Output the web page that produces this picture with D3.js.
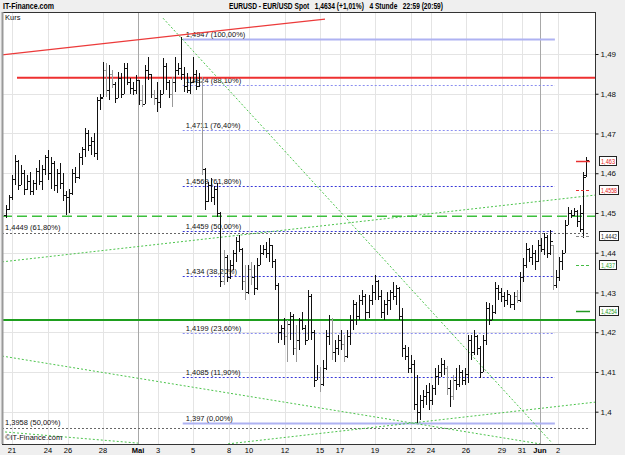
<!DOCTYPE html>
<head>
    <meta charset="UTF-8">
    <title>EURUSD 4 Stunde</title>
</head>
<style>
    body { margin: 0; background: #efefef; font-family: "Liberation Sans", Arial, sans-serif; }
    svg { display: block; }
    .grid line { stroke: #e4e4e4; stroke-width: 1; shape-rendering: crispEdges; }
    .small { font-size: 7.5px; fill: #111; }
</style>
<body>
<script src="https://cdn.jsdelivr.net/npm/d3@7"></script>
<script>
    // EURUSD 4h bars, 21. April - 2. Juni (Werte aus dem Bild geschaetzt)
    var barOpen = [
        1.4495,1.4510,1.4540,1.4585,1.4630,1.4570,1.4600,1.4560,1.4580,1.4555,
        1.4575,1.4605,1.4580,1.4610,1.4640,1.4600,1.4625,1.4570,1.4600,1.4575,
        1.4545,1.4540,1.4550,1.4600,1.4590,1.4640,1.4660,1.4700,1.4670,1.4680,
        1.4650,1.4785,1.4792,1.4860,1.4810,1.4850,1.4825,1.4790,1.4840,1.4800,
        1.4865,1.4830,1.4815,1.4810,1.4835,1.4785,1.4775,1.4860,1.4850,1.4800,
        1.4790,1.4780,1.4800,1.4870,1.4830,1.4800,1.4830,1.4860,1.4865,1.4850,
        1.4820,1.4810,1.4830,1.4850,1.4820,1.4830,1.4610,1.4530,1.4570,1.4540,
        1.4560,1.4500,1.4330,1.4390,1.4340,1.4370,1.4400,1.4430,1.4410,1.4330,
        1.4300,1.4360,1.4340,1.4310,1.4370,1.4400,1.4410,1.4400,1.4420,1.4380,
        1.4320,1.4200,1.4210,1.4190,1.4220,1.4240,1.4160,1.4180,1.4230,1.4210,
        1.4180,1.4290,1.4200,1.4080,1.4100,1.4070,1.4110,1.4190,1.4230,1.4150,
        1.4160,1.4180,1.4170,1.4140,1.4190,1.4230,1.4270,1.4240,1.4280,1.4290,
        1.4250,1.4280,1.4300,1.4330,1.4290,1.4250,1.4270,1.4280,1.4300,1.4290,
        1.4310,1.4240,1.4160,1.4140,1.4110,1.4120,1.4020,1.4000,1.4030,1.4040,
        1.4050,1.4030,1.4060,1.4090,1.4100,1.4120,1.4110,1.4060,1.4040,1.4080,
        1.4070,1.4100,1.4080,1.4095,1.4180,1.4150,1.4190,1.4160,1.4100,1.4180,
        1.4260,1.4230,1.4250,1.4310,1.4300,1.4290,1.4280,1.4295,1.4270,1.4290,
        1.4280,1.4340,1.4370,1.4410,1.4390,1.4400,1.4380,1.4420,1.4410,1.4440,
        1.4400,1.4420,1.4320,1.4340,1.4380,1.4400,1.4470,1.4500,1.4495,1.4505,
        1.4480,1.4460,1.4595];
    var barHigh = [
        1.4520,1.4545,1.4595,1.4646,1.4633,1.4620,1.4608,1.4595,1.4603,1.4583,
        1.4613,1.4633,1.4620,1.4646,1.4658,1.4640,1.4630,1.4610,1.4625,1.4600,
        1.4555,1.4560,1.4610,1.4615,1.4650,1.4665,1.4715,1.4710,1.4690,1.4700,
        1.4792,1.4800,1.4880,1.4877,1.4872,1.4860,1.4830,1.4855,1.4852,1.4877,
        1.4877,1.4840,1.4830,1.4847,1.4835,1.4822,1.4872,1.4892,1.4850,1.4810,
        1.4830,1.4810,1.4890,1.4877,1.4835,1.4842,1.4892,1.4877,1.4943,1.4867,
        1.4852,1.4842,1.4892,1.4860,1.4852,1.4842,1.4612,1.4578,1.4588,1.4567,
        1.4575,1.4502,1.4407,1.4394,1.4382,1.4407,1.4440,1.4445,1.4412,1.4370,
        1.4370,1.4377,1.4370,1.4387,1.4420,1.4420,1.4427,1.4437,1.4420,1.4385,
        1.4325,1.4218,1.4236,1.4231,1.4251,1.4245,1.4218,1.4236,1.4251,1.4218,
        1.4306,1.4295,1.4205,1.4117,1.4112,1.4130,1.4205,1.4243,1.4235,1.4180,
        1.4193,1.4205,1.4193,1.4205,1.4243,1.4281,1.4275,1.4293,1.4306,1.4295,
        1.4293,1.4319,1.4344,1.4331,1.4306,1.4281,1.4301,1.4306,1.4326,1.4319,
        1.4315,1.4261,1.4168,1.4163,1.4143,1.4130,1.4092,1.4042,1.4054,1.4067,
        1.4072,1.4067,1.4110,1.4117,1.4135,1.4130,1.4115,1.4080,1.4092,1.4110,
        1.4117,1.4105,1.4110,1.4193,1.4193,1.4205,1.4193,1.4165,1.4193,1.4276,
        1.4273,1.4268,1.4326,1.4319,1.4311,1.4301,1.4306,1.4293,1.4301,1.4306,
        1.4351,1.4387,1.4425,1.4412,1.4420,1.4407,1.4432,1.4437,1.4450,1.4445,
        1.4457,1.4420,1.4357,1.4390,1.4407,1.4483,1.4515,1.4507,1.4512,1.4507,
        1.4520,1.4603,1.4640];
    var barLow = [
        1.4487,1.4507,1.4532,1.4570,1.4558,1.4570,1.4545,1.4558,1.4545,1.4545,
        1.4558,1.4570,1.4558,1.4595,1.4583,1.4560,1.4555,1.4550,1.4560,1.4530,
        1.4495,1.4500,1.4545,1.4575,1.4585,1.4620,1.4640,1.4655,1.4645,1.4640,
        1.4633,1.4760,1.4792,1.4792,1.4784,1.4815,1.4777,1.4789,1.4789,1.4800,
        1.4822,1.4800,1.4797,1.4800,1.4772,1.4767,1.4775,1.4835,1.4789,1.4772,
        1.4754,1.4764,1.4800,1.4810,1.4789,1.4767,1.4805,1.4847,1.4835,1.4805,
        1.4802,1.4800,1.4827,1.4810,1.4817,1.4596,1.4507,1.4528,1.4528,1.4520,
        1.4490,1.4314,1.4319,1.4326,1.4334,1.4357,1.4377,1.4402,1.4306,1.4281,
        1.4295,1.4319,1.4294,1.4306,1.4370,1.4395,1.4387,1.4377,1.4362,1.4306,
        1.4173,1.4180,1.4168,1.4125,1.4180,1.4143,1.4125,1.4155,1.4206,1.4168,
        1.4180,1.4180,1.4062,1.4080,1.4049,1.4065,1.4105,1.4168,1.4130,1.4125,
        1.4143,1.4155,1.4125,1.4135,1.4168,1.4206,1.4218,1.4231,1.4268,1.4231,
        1.4236,1.4268,1.4281,1.4281,1.4236,1.4231,1.4243,1.4256,1.4281,1.4268,
        1.4231,1.4138,1.4130,1.4097,1.4097,1.4004,1.3971,1.3979,1.4009,1.4017,
        1.4004,1.4017,1.4042,1.4067,1.4087,1.4092,1.4042,1.4012,1.4029,1.4054,
        1.4062,1.4067,1.4067,1.4072,1.4130,1.4143,1.4143,1.4085,1.4100,1.4168,
        1.4218,1.4231,1.4245,1.4281,1.4276,1.4263,1.4268,1.4261,1.4256,1.4273,
        1.4275,1.4326,1.4362,1.4377,1.4369,1.4357,1.4377,1.4402,1.4395,1.4387,
        1.4395,1.4306,1.4311,1.4330,1.4357,1.4400,1.4470,1.4487,1.4492,1.4465,
        1.4452,1.4437,1.4590];
    var barClose = [
        1.4510,1.4540,1.4585,1.4630,1.4570,1.4600,1.4560,1.4580,1.4555,1.4575,
        1.4605,1.4580,1.4610,1.4640,1.4600,1.4625,1.4570,1.4600,1.4575,1.4545,
        1.4540,1.4550,1.4600,1.4590,1.4640,1.4660,1.4700,1.4670,1.4680,1.4650,
        1.4785,1.4790,1.4860,1.4810,1.4850,1.4825,1.4790,1.4840,1.4800,1.4865,
        1.4830,1.4815,1.4810,1.4835,1.4785,1.4775,1.4860,1.4850,1.4800,1.4790,
        1.4780,1.4800,1.4870,1.4830,1.4800,1.4830,1.4860,1.4865,1.4850,1.4820,
        1.4810,1.4830,1.4850,1.4820,1.4830,1.4610,1.4530,1.4570,1.4540,1.4560,
        1.4500,1.4330,1.4390,1.4340,1.4370,1.4400,1.4430,1.4410,1.4330,1.4300,
        1.4360,1.4340,1.4310,1.4370,1.4400,1.4410,1.4400,1.4420,1.4380,1.4320,
        1.4200,1.4210,1.4190,1.4220,1.4240,1.4160,1.4180,1.4230,1.4210,1.4180,
        1.4290,1.4200,1.4080,1.4100,1.4070,1.4110,1.4190,1.4230,1.4150,1.4160,
        1.4180,1.4170,1.4140,1.4190,1.4230,1.4270,1.4240,1.4280,1.4290,1.4250,
        1.4280,1.4300,1.4330,1.4290,1.4250,1.4270,1.4280,1.4300,1.4290,1.4310,
        1.4240,1.4160,1.4140,1.4110,1.4120,1.4020,1.4000,1.4030,1.4040,1.4050,
        1.4030,1.4060,1.4090,1.4100,1.4120,1.4110,1.4060,1.4040,1.4080,1.4070,
        1.4100,1.4080,1.4095,1.4180,1.4150,1.4190,1.4160,1.4100,1.4180,1.4260,
        1.4230,1.4250,1.4310,1.4300,1.4290,1.4280,1.4295,1.4270,1.4290,1.4280,
        1.4340,1.4370,1.4410,1.4390,1.4400,1.4380,1.4420,1.4410,1.4440,1.4400,
        1.4430,1.4320,1.4340,1.4380,1.4400,1.4470,1.4500,1.4495,1.4505,1.4480,
        1.4500,1.4590,1.4634];
    // Balken, die im Bild grau statt schwarz sind
    var grayBars = [33, 35, 45, 49, 55, 65, 72, 79, 81, 93, 96, 104, 108, 112, 146, 148, 169, 181];

    var tickLabels = ["21","24","26","28","Mai","3","5","8","10","12","15","17","19","22","24","26","29","31","Jun","2"];
    var tickIndex  = [2, 14, 20.5, 32, 43.7, 50.3, 62, 73.8, 80.5, 92.4, 104, 110.6, 122.2, 134, 140.7, 152.3, 164.2, 170.9, 176.8, 182.8];
    var monthTicks = ["Mai", "Jun"];

    var priceTicks = [1.40, 1.41, 1.42, 1.43, 1.44, 1.45, 1.46, 1.47, 1.48, 1.49];

    // Kopfzeile
    var siteName = "IT-Finance.com";
    var headLine = "EURUSD - EUR/USD Spot\u00a0\u00a0 1,4634 (+1,01%)\u00a0\u00a0 4 Stunde\u00a0\u00a0 22:59 (20:59)";

    // Fibonacci (blau) vom Hoch zum Tief
    var fibHigh = 1.4938, fibLow = 1.3971, fibFrom = 58.5, fibTo = 181.7;
    var fibRatios = [1.0, 0.881, 0.764, 0.618, 0.5, 0.382, 0.236, 0.119, 0.0];
    var fibLabels = ["1,4947 (100,00%)","1,4824 (88,10%)","1,4711 (76,40%)","1,4569 (61,80%)","1,4459 (50,00%)",
                     "1,434 (38,20%)","1,4199 (23,60%)","1,4085 (11,90%)","1,397 (0,00%)"];
    // zweite Fibonacci-Gruppe (grau)
    var grayFibPrices = [1.4449, 1.3958];
    var grayFibLabels = ["1,4449 (61,80%)", "1,3958 (50,00%)"];

    // horizontale Linien
    var redLevel = 1.4840, greenDashLevel = 1.4492, greenLevel = 1.4231;
    // Trendlinien [index1, kurs1, index2, kurs2]
    var redTrend = [-1.3, 1.4898, 105.6, 1.4988];
    var greenTrends = [
        [52.0, 1.4990, 180.8, 1.3921],
        [-1.3, 1.4377, 195.0, 1.4545],
        [-1.3, 1.4140, 176.8, 1.3919],
        [73.5, 1.3919, 195.0, 1.4024],
        [-0.3, 1.3949, 43.7, 1.3921]
    ];

    // letzte Werte der Indikatoren am rechten Rand
    var markerValues = [1.4630, 1.4558, 1.4442, 1.4370, 1.4254];
    var markerTexts  = ["1,463", "1,4558", "1,4442", "1,437", "1,4254"];
    var markerColors = ["#e82020", "#e82020", "#222", "#33aa33", "#229922"];
    var markerLine   = ["#e83030", "#e83030", "#888", "#44bb44", "#229922"];
    var markerDash   = [null, "3,2", "3,2", "3,2", null];

    var W = 625, H = 455;
    var plot = {left: 2, right: 595, top: 12, bottom: 444};

    var x = d3.scaleLinear().domain([0, 192]).range([6, 586]);
    var y = d3.scaleLinear().domain([1.40, 1.49]).range([411.7, 54]);

    var svg = d3.select("body").append("svg")
        .attr("width", W)
        .attr("height", H);

    svg.append("defs").append("clipPath").attr("id", "clip")
        .append("rect")
        .attr("x", plot.left).attr("y", plot.top)
        .attr("width", plot.right - plot.left).attr("height", plot.bottom - plot.top);

    svg.append("rect")
        .attr("x", plot.left).attr("y", plot.top)
        .attr("width", plot.right - plot.left).attr("height", plot.bottom - plot.top)
        .attr("fill", "#fff");

    // Kopfzeile
    svg.append("text").attr("x", 3).attr("y", 9)
        .attr("textLength", 51).attr("lengthAdjust", "spacingAndGlyphs")
        .style("font-size", "8.5px").style("font-weight", "bold").text(siteName);
    svg.append("text").attr("x", 229).attr("y", 9)
        .attr("textLength", 214).attr("lengthAdjust", "spacingAndGlyphs")
        .style("font-size", "8.5px").style("font-weight", "bold")
        .text(headLine);

    var g = svg.append("g").attr("clip-path", "url(#clip)");

    // Gitter
    var grid = g.append("g").attr("class", "grid");
    grid.selectAll(".hy").data(priceTicks).enter().append("line")
        .attr("x1", plot.left).attr("x2", plot.right)
        .attr("y1", function(d) { return Math.round(y(d)) + 0.5; })
        .attr("y2", function(d) { return Math.round(y(d)) + 0.5; });
    grid.selectAll(".vx").data(tickIndex).enter().append("line")
        .attr("x1", function(d) { return Math.round(x(d)) + 0.5; })
        .attr("x2", function(d) { return Math.round(x(d)) + 0.5; })
        .attr("y1", plot.top).attr("y2", plot.bottom)
        .style("stroke", function(d, i) { return monthTicks.indexOf(tickLabels[i]) >= 0 ? "#a8a8a8" : null; });

    g.append("text").attr("x", 5).attr("y", 20).attr("class", "small").text("Kurs");

    // Fibonacci blau
    g.selectAll(".fib").data(fibRatios).enter().append("line")
        .attr("x1", x(fibFrom)).attr("x2", x(fibTo))
        .attr("y1", function(d) { return Math.round(y(fibLow + d * (fibHigh - fibLow))) + 0.5; })
        .attr("y2", function(d) { return Math.round(y(fibLow + d * (fibHigh - fibLow))) + 0.5; })
        .attr("stroke", function(d) { return (d === 1 || d === 0) ? "#aeb2f2" : (d > 0.7 || d === 0.236 ? "#8a8ef0" : "#3838d8"); })
        .attr("stroke-width", function(d) { return (d === 1 || d === 0) ? 2 : 1; })
        .attr("stroke-dasharray", function(d) { return (d === 1 || d === 0) ? null : "2,2"; });
    g.selectAll(".fibl").data(fibRatios).enter().append("text")
        .attr("class", "small")
        .attr("x", x(fibFrom) + 3)
        .attr("y", function(d) { return y(fibLow + d * (fibHigh - fibLow)) - 2; })
        .text(function(d, i) { return fibLabels[i]; });

    // Fibonacci grau
    g.selectAll(".gfib").data(grayFibPrices).enter().append("line")
        .attr("x1", plot.left).attr("x2", x(193))
        .attr("y1", function(d) { return Math.round(y(d)) + 0.5; })
        .attr("y2", function(d) { return Math.round(y(d)) + 0.5; })
        .attr("stroke", "#666").attr("stroke-dasharray", "2,2");
    g.selectAll(".gfibl").data(grayFibPrices).enter().append("text")
        .attr("class", "small")
        .attr("x", 5)
        .attr("y", function(d) { return y(d) - 3; })
        .text(function(d, i) { return grayFibLabels[i]; });

    // Trendlinien
    g.selectAll(".gtr").data(greenTrends).enter().append("line")
        .attr("x1", function(d) { return x(d[0]); }).attr("y1", function(d) { return y(d[1]); })
        .attr("x2", function(d) { return x(d[2]); }).attr("y2", function(d) { return y(d[3]); })
        .attr("stroke", "#4cc44c").attr("stroke-width", 1).attr("stroke-dasharray", "2,2");
    g.append("line")
        .attr("x1", x(redTrend[0])).attr("y1", y(redTrend[1]))
        .attr("x2", x(redTrend[2])).attr("y2", y(redTrend[3]))
        .attr("stroke", "#ec3a3a").attr("stroke-width", 1.3);

    g.append("line").attr("x1", 17).attr("x2", plot.right)
        .attr("y1", y(redLevel)).attr("y2", y(redLevel))
        .attr("stroke", "#ee3030").attr("stroke-width", 2);
    g.append("line").attr("x1", plot.left).attr("x2", plot.right)
        .attr("y1", y(greenDashLevel)).attr("y2", y(greenDashLevel))
        .attr("stroke", "#3cc03c").attr("stroke-width", 1.5).attr("stroke-dasharray", "10,5");
    g.append("line").attr("x1", plot.left).attr("x2", plot.right)
        .attr("y1", y(greenLevel)).attr("y2", y(greenLevel))
        .attr("stroke", "#1e9e1e").attr("stroke-width", 2);

    // OHLC Balken
    var bars = d3.range(barOpen.length);
    var bg = g.append("g");
    var bar = bg.selectAll(".bar").data(bars).enter().append("g")
        .attr("stroke", function(i) { return grayBars.indexOf(i) >= 0 ? "#9a9a9a" : "#111"; })
        .attr("stroke-width", 1)
        .attr("shape-rendering", "crispEdges");
    bar.append("line")
        .attr("x1", function(i) { return Math.round(x(i)) + 0.5; })
        .attr("x2", function(i) { return Math.round(x(i)) + 0.5; })
        .attr("y1", function(i) { return y(barHigh[i]); })
        .attr("y2", function(i) { return y(barLow[i]); });
    bar.append("line")
        .attr("x1", function(i) { return Math.round(x(i)) - 2; })
        .attr("x2", function(i) { return Math.round(x(i)); })
        .attr("y1", function(i) { return Math.round(y(barOpen[i])) + 0.5; })
        .attr("y2", function(i) { return Math.round(y(barOpen[i])) + 0.5; });
    bar.append("line")
        .attr("x1", function(i) { return Math.round(x(i)) + 1; })
        .attr("x2", function(i) { return Math.round(x(i)) + 3; })
        .attr("y1", function(i) { return Math.round(y(barClose[i])) + 0.5; })
        .attr("y2", function(i) { return Math.round(y(barClose[i])) + 0.5; });

    // Indikator-Marken
    g.selectAll(".mk").data(markerValues).enter().append("line")
        .attr("x1", 576).attr("x2", 590)
        .attr("y1", function(d) { return Math.round(y(d)) + 0.5; })
        .attr("y2", function(d) { return Math.round(y(d)) + 0.5; })
        .attr("stroke", function(d, i) { return markerLine[i]; })
        .attr("stroke-width", function(d, i) { return markerDash[i] ? 1 : 1.5; })
        .attr("stroke-dasharray", function(d, i) { return markerDash[i]; });

    g.append("text").attr("x", 5).attr("y", 440).attr("class", "small").text("©IT-Finance.com");

    // Rahmen
    svg.append("line").attr("x1", plot.left).attr("x2", plot.right + 1).attr("y1", plot.top + 0.5).attr("y2", plot.top + 0.5)
        .attr("stroke", "#333");
    svg.append("line").attr("x1", plot.right + 0.5).attr("x2", plot.right + 0.5).attr("y1", plot.top).attr("y2", plot.bottom + 1)
        .attr("stroke", "#333");
    svg.append("line").attr("x1", plot.left).attr("x2", plot.right + 1).attr("y1", plot.bottom + 0.5).attr("y2", plot.bottom + 0.5)
        .attr("stroke", "#333");
    svg.append("line").attr("x1", plot.left + 0.5).attr("x2", plot.left + 0.5).attr("y1", plot.top).attr("y2", plot.bottom)
        .attr("stroke", "#999").attr("stroke-width", 2);

    // rechte Achse
    var yAxis = svg.append("g")
        .attr("transform", "translate(" + (plot.right + 0.5) + ",0)")
        .call(d3.axisRight(y).tickValues(priceTicks).tickSize(3).tickPadding(2)
            .tickFormat(function(d) { return d3.format(".2~f")(d).replace(".", ","); }));
    yAxis.select(".domain").remove();
    yAxis.selectAll("text").style("font-size", "8px").style("font-family", "Liberation Sans, Arial, sans-serif").attr("fill", "#111");
    yAxis.selectAll("line").attr("stroke", "#111");

    var boxes = svg.selectAll(".mbox").data(markerValues).enter().append("g")
        .attr("transform", function(d) { return "translate(599," + Math.round(y(d)) + ")"; });
    boxes.append("rect")
        .attr("x", 0.5).attr("y", -4.5).attr("height", 9)
        .attr("width", function(d, i) { return markerTexts[i].length > 5 ? 19 : 17; })
        .attr("fill", "#fff").attr("stroke", "#222");
    boxes.append("text")
        .attr("x", 2).attr("y", 3)
        .attr("textLength", function(d, i) { return markerTexts[i].length > 5 ? 16 : 14; })
        .attr("lengthAdjust", "spacingAndGlyphs")
        .style("font-size", "7px")
        .attr("fill", function(d, i) { return markerColors[i]; })
        .text(function(d, i) { return markerTexts[i]; });

    // untere Achse
    svg.selectAll(".xl").data(tickIndex).enter().append("text")
        .attr("x", function(d) { return Math.round(x(d)); })
        .attr("y", 453)
        .attr("text-anchor", "middle")
        .style("font-size", "7.5px")
        .style("font-weight", function(d, i) { return monthTicks.indexOf(tickLabels[i]) >= 0 ? "bold" : "normal"; })
        .text(function(d, i) { return tickLabels[i]; });
</script>
</body>
